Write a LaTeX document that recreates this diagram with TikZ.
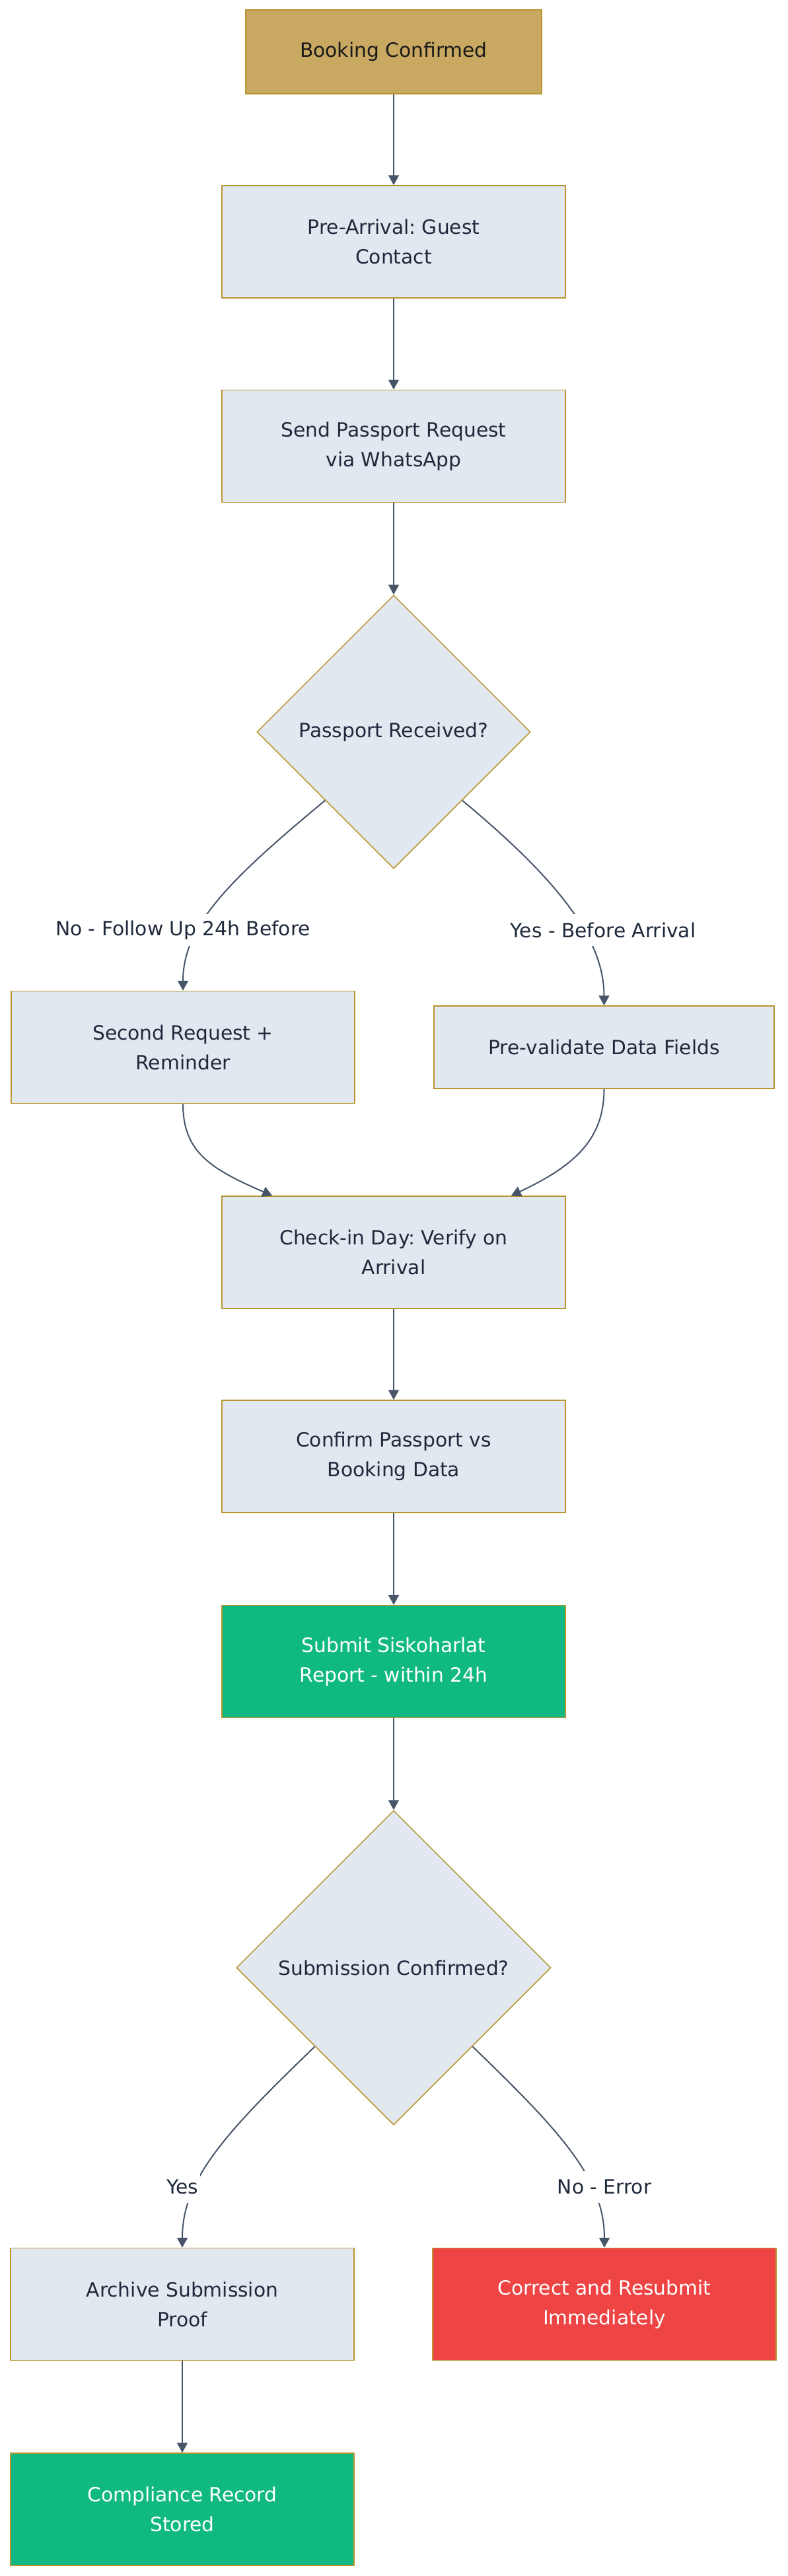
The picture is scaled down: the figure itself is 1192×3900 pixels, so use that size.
\documentclass[tikz,border=0pt]{standalone}
\usepackage{fontspec}
\setmainfont{DejaVu Sans}
\usetikzlibrary{shapes.geometric,arrows.meta,calc}

\definecolor{boxfill}{HTML}{E2E8F0}
\definecolor{boxline}{HTML}{B8952E}
\definecolor{ink}{HTML}{1E293B}
\definecolor{wire}{HTML}{475569}
\definecolor{startfill}{HTML}{C9A862}
\definecolor{okfill}{HTML}{10B981}
\definecolor{errfill}{HTML}{EF4444}

\begin{document}
\frenchspacing
\begin{tikzpicture}[x=1pt,y=-1pt,
  every node/.style={font=\fontsize{29.7}{45}\selectfont\frenchspacing},
  box/.style={draw=boxline, line width=1.5pt, fill=boxfill, text=ink,
    align=center, minimum width=520pt, minimum height=170pt, inner sep=0pt},
  startbox/.style={box, fill=startfill, text=black!90,
    minimum width=448pt, minimum height=127pt},
  okbox/.style={box, fill=okfill, text=white},
  errbox/.style={box, fill=errfill, text=white},
  decision/.style={diamond, aspect=1, draw=boxline, line width=1.5pt,
    fill=boxfill, text=ink, inner sep=0pt},
  edge/.style={draw=wire, line width=2pt,
    -{Triangle[width=16pt,length=15pt]}},
  lbl/.style={fill=white, text=ink, inner xsep=3pt, inner ysep=0pt,
    minimum height=48pt}
]
\fill[white] (0,0) rectangle (1192,3900);
\useasboundingbox (0,0) rectangle (1192,3900);

% main column
\node[startbox] (booking) at (596,78.5) {Booking Confirmed};
\node[box] (pre) at (596,366) {Pre-Arrival: Guest\\Contact};
\node[box] (send) at (596,675.5) {Send Passport Request\\via WhatsApp};
\node[decision, minimum width=414pt, minimum height=414pt] (recv) at (596,1108) {Passport Received?};

% branches after the passport check
\node[box] (sreq) at (277,1585.5) {Second Request +\\Reminder};
\node[box, minimum width=515pt, minimum height=125pt] (preval) at (914.5,1585.5) {Pre-validate Data Fields};

\node[box] (checkin) at (596,1896) {Check-in Day: Verify on\\Arrival};
\node[box] (confirm) at (596,2205) {Confirm Passport vs\\Booking Data};
\node[okbox] (submit) at (596,2515.5) {Submit Siskoharlat\\Report - within 24h};
\node[decision, minimum width=476pt, minimum height=476pt] (subconf) at (596,2979) {Submission Confirmed?};

% outcomes
\node[box] (archive) at (276,3488.5) {Archive Submission\\Proof};
\node[errbox] (correct) at (915,3488.5) {Correct and Resubmit\\Immediately};
\node[okbox] (compliance) at (276,3799) {Compliance Record\\Stored};

% connectors
\draw[edge] (booking.south) -- (pre.north);
\draw[edge] (pre.south) -- (send.north);
\draw[edge] (send.south) -- (recv.north);

\draw[edge] ($(recv.west)!0.5!(recv.south)$) .. controls (350,1330) and (277,1400) .. (sreq.north);
\draw[edge] ($(recv.east)!0.5!(recv.south)$) .. controls (842,1330) and (914.5,1420) .. (preval.north);

\draw[edge] (sreq.south) .. controls (277,1745) and (320,1770) .. ([xshift=77pt]checkin.north west);
\draw[edge] (preval.south) .. controls (914.5,1725) and (870,1765) .. ([xshift=-83pt]checkin.north east);

\draw[edge] (checkin.south) -- (confirm.north);
\draw[edge] (confirm.south) -- (submit.north);
\draw[edge] (submit.south) -- (subconf.north);

\draw[edge] ($(subconf.west)!0.5!(subconf.south)$) .. controls (340,3230) and (276,3300) .. (archive.north);
\draw[edge] ($(subconf.east)!0.5!(subconf.south)$) .. controls (852,3230) and (915,3300) .. (correct.north);

\draw[edge] (archive.south) -- (compliance.north);

% edge labels
\node[lbl] (lnofollow) at (277,1408) {No - Follow Up 24h Before};
\node[lbl] (lyesbefore) at (913,1408) {Yes - Before Arrival};
\node[lbl] (lyes) at (276,3311) {Yes};
\node[lbl] (lnoerror) at (915,3311) {No - Error};
\end{tikzpicture}
\end{document}
